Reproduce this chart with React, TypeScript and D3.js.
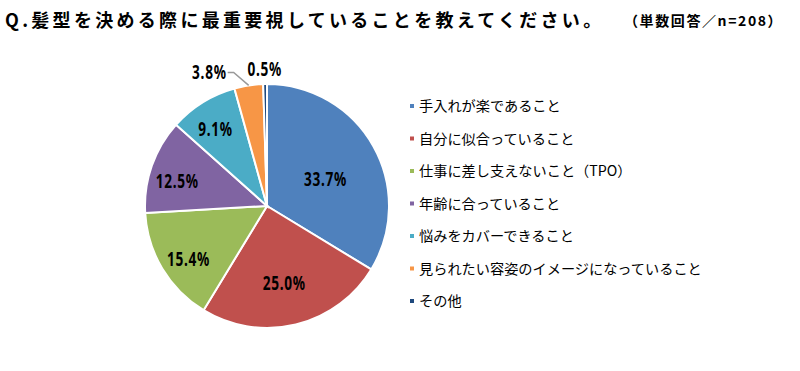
import React from 'react';
import * as d3 from 'd3';

const width = 800;
const height = 371;
const cx = 267;
const cy = 206;
const radius = 122;

const title = 'Q.髪型を決める際に最重要視していることを教えてください。';
const subtitle = '（単数回答／n=208）';

const categories = [
  '手入れが楽であること',
  '自分に似合っていること',
  '仕事に差し支えないこと（TPO）',
  '年齢に合っていること',
  '悩みをカバーできること',
  '見られたい容姿のイメージになっていること',
  'その他'
];
const values = [33.7, 25.0, 15.4, 12.5, 9.1, 3.8, 0.5];
const colors = ['#4F81BD', '#C0504D', '#9BBB59', '#8064A2', '#4BACC6', '#F79646', '#1F497D'];
// label distance as a fraction of radius (inside labels only)
const labelRadius = [0.55, 0.6, 0.75, 0.78, 0.8, 0, 0];

const jp = '"Noto Sans CJK JP", "Noto Sans", sans-serif';
const num = '"Noto Sans", "DejaVu Sans", sans-serif';

function NumLabel({ x, y, text, anchor = 'middle' }: { x: number; y: number; text: string; anchor?: string }) {
  return (
    <g transform={`translate(${x},${y}) scale(0.7,1)`}>
      <text x={0} y={0} textAnchor={anchor} fontFamily={num} fontWeight="bold" fontSize={19.5} letterSpacing={1} fill="#000">
        {text}
      </text>
    </g>
  );
}

export default function App() {
  const pie = d3
    .pie<number>()
    .sort(null)
    .value(d => d);
  const arcs = pie(values);
  const arc = d3.arc<d3.PieArcDatum<number>>().innerRadius(0).outerRadius(radius);
  const at = (k: number) => d3.arc<d3.PieArcDatum<number>>().innerRadius(radius * k).outerRadius(radius * k);

  const fmt = (v: number) => v.toFixed(1) + '%';

  // outside labels
  const [ox, oy] = at(1.0).centroid(arcs[5]);
  const [tx, ty] = at(1.13).centroid(arcs[6]);

  const legendY = d3.scaleLinear().domain([0, categories.length - 1]).range([106, 301]);

  return (
    <svg
      width={width}
      height={height}
      style={{ position: 'absolute', left: 0, top: 0, background: '#fff' }}
    >
      <rect width={width} height={height} fill="#fff" />
      <text x={5} y={27} fontFamily={jp} fontWeight="bold" fontSize={18} letterSpacing={3.3} fill="#000">
        {title}
      </text>
      <text x={624} y={26} fontFamily={jp} fontWeight="bold" fontSize={14} letterSpacing={1.6} fill="#000">
        {subtitle}
      </text>

      <g transform={`translate(${cx},${cy})`}>
        {arcs.map((a, i) => (
          <path key={i} d={arc(a) || ''} fill={colors[i]} stroke="#fff" strokeWidth={2} />
        ))}
        {arcs.map((a, i) => {
          if (!labelRadius[i]) return null;
          const [x, y] = at(labelRadius[i]).centroid(a);
          return <NumLabel key={'l' + i} x={x} y={y + 13} text={fmt(values[i])} />;
        })}
        <polyline
          points={`${ox},${oy} ${ox - 15},${oy - 13} ${ox - 21},${oy - 13}`}
          fill="none"
          stroke="#999"
          strokeWidth={1.5}
        />
        <NumLabel x={ox - 22} y={oy - 6} text={fmt(values[5])} anchor="end" />
        <NumLabel x={tx} y={ty + 8} text={fmt(values[6])} />
      </g>

      <g>
        {categories.map((c, i) => (
          <g key={c} transform={`translate(410,${legendY(i)})`}>
            <rect x={0} y={-2} width={4} height={4} fill={colors[i]} />
            <text x={9} y={5} fontFamily={jp} fontSize={14.2} fill="#000">
              {c}
            </text>
          </g>
        ))}
      </g>
    </svg>
  );
}
